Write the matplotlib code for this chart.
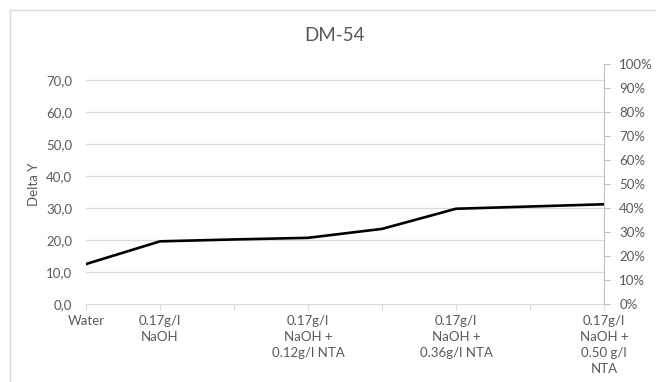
import numpy as np
import matplotlib.pyplot as plt
from matplotlib.lines import Line2D
from matplotlib.ticker import FuncFormatter

# datos
categorias = ["Water", "0.17g/l\nNaOH", "", "0.17g/l\nNaOH +\n0.12g/l NTA", "",
              "0.17g/l\nNaOH +\n0.36g/l NTA", "", "0.17g/l\nNaOH +\n0.50 g/l\nNTA"]
delta_y = [12.5, 19.6, 20.2, 20.7, 23.5, 29.8, 30.5, 31.2]
yticks_izq = [0, 10, 20, 30, 40, 50, 60, 70]
yticks_der = [0, 0.1, 0.2, 0.3, 0.4, 0.5, 0.6, 0.7, 0.8, 0.9, 1.0]

plt.rcParams['font.family'] = ['Lato', 'DejaVu Sans']
gris = '#595959'
grid_c = '#d9d9d9'
fs = 9.5

fig = plt.figure(figsize=(6.56, 3.82), dpi=100)
ax = fig.add_axes([0.1311, 0.2042, 0.7896, 0.6275])

x = np.arange(len(categorias))
ax.plot(x, delta_y, color='black', lw=1.9, solid_joinstyle='round')

ax.set_xlim(0, len(categorias) - 1)
ax.set_ylim(0, 75)
ax.set_yticks(yticks_izq)
ax.yaxis.set_major_formatter(FuncFormatter(lambda v, p: ('%.1f' % v).replace('.', ',')))
ax.set_xticks(x)
ax.set_xticklabels(categorias, linespacing=1.4)
for s in ['top', 'left', 'right']:
    ax.spines[s].set_visible(False)
ax.spines['bottom'].set_color(grid_c)
ax.tick_params(axis='y', length=0, pad=10, labelsize=fs, labelcolor=gris)
ax.tick_params(axis='x', length=4, color=grid_c, pad=4, labelsize=fs, labelcolor=gris)
for t in yticks_izq[1:]:
    ax.axhline(t, color=grid_c, lw=0.9, zorder=0)
ax.set_ylabel('Delta Y', color=gris, fontsize=fs, labelpad=4)

ax2 = ax.twinx()
ax2.set_ylim(0, 1)
ax2.set_yticks(yticks_der)
ax2.yaxis.set_major_formatter(FuncFormatter(lambda v, p: '%d%%' % round(v * 100)))
for s in ['top', 'left', 'bottom']:
    ax2.spines[s].set_visible(False)
ax2.spines['right'].set_color('#bfbfbf')
ax2.tick_params(axis='y', length=4, color='#bfbfbf', pad=7, labelsize=fs, labelcolor=gris)

fig.text(0.51, 0.908, 'DM-54', ha='center', va='center', fontsize=13.5, color=gris)

# borde del grafico
fig.add_artist(Line2D([10 / 656, 1], [1 - 9.5 / 382] * 2, color='#d9d9d9', lw=1, transform=fig.transFigure))
fig.add_artist(Line2D([10 / 656] * 2, [0, 1 - 9.5 / 382], color='#d9d9d9', lw=1, transform=fig.transFigure))

fig.savefig('out.png', dpi=100)
